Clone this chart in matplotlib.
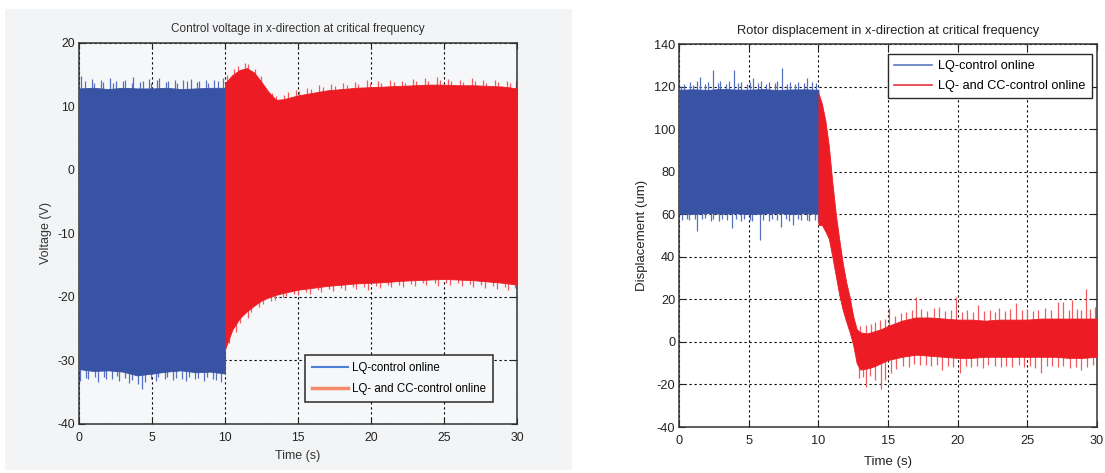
import matplotlib
matplotlib.use("Agg")
import matplotlib.pyplot as plt
from matplotlib.lines import Line2D
from matplotlib.patches import Rectangle

# ---------------- data: control voltage (left panel) ----------------
lq_v_t = [0, 1, 2, 3, 4, 5, 6, 7, 8, 9, 10]
lq_v_hi = [12.8, 12.9, 12.7, 12.9, 12.8, 12.8, 12.9, 12.7, 12.8, 12.9, 12.9]
lq_v_lo = [-31.4, -31.7, -31.6, -31.8, -32.4, -32.1, -31.8, -31.6, -31.9, -31.8, -32.1]
lq_v_peak_t = [0.15, 0.42, 0.9, 1.05, 1.48, 1.62, 2.1, 2.35, 2.55, 3.0, 3.18, 3.6, 3.72, 4.15,
               4.38, 4.8, 4.95, 5.35, 5.5, 5.95, 6.12, 6.58, 6.7, 7.15, 7.42, 7.65, 8.1, 8.25,
               8.7, 8.85, 9.25, 9.5, 9.85]
lq_v_peak = [14.8, 13.9, 14.3, 13.6, 14.1, 13.8, 14.4, 13.7, 14.0, 13.9, 14.2, 13.6, 14.6, 13.8,
             14.0, 14.3, 13.7, 14.1, 14.4, 13.8, 14.0, 14.2, 13.7, 14.1, 13.9, 14.3, 13.8, 14.0,
             14.2, 13.7, 14.1, 14.0, 14.4]
lq_v_dip_t = [0.08, 0.45, 0.62, 1.1, 1.28, 1.7, 1.85, 2.27, 2.6, 2.74, 3.12, 3.45, 3.66, 4.05,
              4.3, 4.52, 4.9, 5.25, 5.42, 5.86, 6.05, 6.46, 6.62, 7.08, 7.35, 7.5, 7.95, 8.15,
              8.58, 8.76, 9.18, 9.41, 9.72]
lq_v_dip = [-33.2, -32.8, -33.0, -32.6, -33.4, -32.7, -33.0, -32.9, -32.5, -33.3, -32.8, -33.6,
            -33.1, -33.8, -34.5, -33.4, -32.9, -33.2, -32.7, -33.0, -32.6, -33.1, -32.8, -32.9,
            -33.3, -32.7, -33.0, -32.8, -33.2, -32.6, -33.0, -33.1, -33.4]

cc_v_t = [10, 10.5, 11, 11.5, 12, 12.5, 13, 13.5, 14, 15, 16, 17, 18, 19, 20, 21, 22, 23, 24,
          25, 26, 27, 28, 29, 30]
cc_v_hi = [13.6, 14.9, 15.7, 16.0, 15.3, 13.8, 12.2, 11.0, 11.1, 11.7, 12.1, 12.5, 12.7, 12.9,
           13.0, 13.1, 13.2, 13.3, 13.4, 13.4, 13.3, 13.3, 13.2, 13.1, 12.8]
cc_v_lo = [-28.3, -25.2, -23.4, -22.3, -21.4, -20.6, -20.1, -19.7, -19.4, -18.9, -18.6, -18.3,
           -18.1, -17.9, -17.8, -17.7, -17.5, -17.4, -17.3, -17.2, -17.3, -17.4, -17.6, -17.8, -18.1]
cc_v_peak_t = [10.15, 10.62, 10.9, 11.35, 11.6, 12.05, 12.45, 12.7, 13.25, 13.5, 14.05, 14.3,
               14.85, 15.1, 15.65, 15.9, 16.45, 16.7, 17.25, 17.5, 18.1, 18.35, 18.9, 19.1,
               19.7, 19.95, 20.5, 20.7, 21.3, 21.55, 22.1, 22.3, 22.9, 23.1, 23.7, 23.9, 24.5,
               24.7, 25.3, 25.5, 26.1, 26.3, 26.9, 27.1, 27.7, 27.9, 28.5, 28.7, 29.3, 29.55,
               29.9]
cc_v_peak = [14.9, 15.8, 16.4, 16.8, 16.6, 15.9, 14.8, 13.2, 12.1, 11.6, 11.8, 12.3, 12.6, 12.4,
             12.9, 12.7, 13.3, 13.0, 13.5, 13.2, 13.6, 13.3, 13.8, 13.5, 14.1, 13.7, 13.9, 13.6,
             14.2, 13.8, 14.0, 13.7, 14.3, 13.9, 14.4, 14.0, 14.6, 14.1, 14.3, 13.9, 14.2, 13.8,
             14.4, 13.9, 14.1, 13.7, 14.2, 13.8, 14.0, 13.6, 13.9]
cc_v_dip_t = [10.25, 10.75, 11.05, 11.55, 11.8, 12.35, 12.6, 13.15, 13.4, 13.95, 14.2, 14.75,
              15.0, 15.55, 15.8, 16.35, 16.6, 17.15, 17.4, 17.95, 18.2, 18.75, 19.0, 19.55,
              19.8, 20.35, 20.6, 21.15, 21.4, 21.95, 22.2, 22.75, 23.0, 23.55, 23.8, 24.35,
              24.6, 25.15, 25.4, 25.95, 26.2, 26.75, 27.0, 27.55, 27.8, 28.35, 28.6, 29.15,
              29.4, 29.85]
cc_v_dip = [-27.3, -25.6, -24.2, -23.3, -22.4, -21.7, -21.2, -20.6, -20.5, -20.0, -19.9, -19.6,
            -19.8, -19.2, -19.5, -19.0, -19.3, -18.8, -19.1, -18.7, -18.9, -18.5, -18.8, -18.4,
            -18.9, -18.3, -18.6, -18.2, -18.5, -18.1, -18.4, -18.0, -18.3, -17.9, -18.2, -17.8,
            -18.3, -17.8, -18.1, -17.9, -18.3, -18.0, -18.4, -18.1, -18.6, -18.3, -18.8, -18.5,
            -19.0, -18.7]

# ---------------- data: rotor displacement (right panel) ----------------
lq_d_t = [0, 1, 2, 3, 4, 5, 6, 7, 8, 9, 10]
lq_d_hi = [118.6, 118.8, 118.5, 119.0, 118.7, 118.6, 118.9, 118.5, 118.7, 118.8, 118.6]
lq_d_lo = [60.4, 60.2, 60.6, 60.3, 60.5, 60.1, 60.4, 60.6, 60.2, 60.5, 60.3]
lq_d_peak_t = [0.1, 0.35, 0.75, 0.95, 1.3, 1.5, 1.85, 2.05, 2.4, 2.75, 2.9, 3.35, 3.55, 3.95,
               4.25, 4.45, 4.85, 5.05, 5.3, 5.65, 5.85, 6.25, 6.45, 6.85, 7.05, 7.4, 7.75, 7.95,
               8.35, 8.55, 8.95, 9.2, 9.55, 9.8]
lq_d_peak = [120.5, 121.5, 122.0, 121.0, 122.8, 124.7, 121.5, 122.3, 127.9, 121.8, 122.5, 121.2,
             122.9, 127.9, 121.6, 122.4, 121.3, 122.1, 124.0, 121.7, 122.6, 121.4, 122.2, 121.8,
             122.7, 128.7, 121.5, 122.3, 121.2, 122.0, 121.6, 124.0, 122.4, 121.9]
lq_d_dip_t = [0.2, 0.55, 0.7, 1.1, 1.3, 1.65, 1.85, 2.25, 2.45, 2.85, 3.05, 3.45, 3.8, 4.05,
              4.45, 4.65, 5.05, 5.25, 5.8, 6.05, 6.45, 6.65, 7.05, 7.3, 7.65, 7.85, 8.2, 8.55,
              8.75, 9.15, 9.35, 9.75, 9.95]
lq_d_dip = [57.5, 58.0, 57.2, 57.8, 52.3, 57.6, 58.1, 57.0, 57.9, 56.8, 57.7, 57.3, 53.4, 57.6,
            57.0, 57.9, 57.3, 56.9, 48.0, 57.5, 57.0, 57.8, 57.2, 54.2, 57.6, 57.1, 55.0, 57.7,
            57.2, 57.5, 56.8, 57.3, 56.5]

cc_d_t = [10, 10.25, 10.5, 10.75, 11, 11.25, 11.5, 11.75, 12, 12.25, 12.5, 12.75, 13, 13.5, 14,
          14.5, 15, 16, 17, 18, 19, 20, 21, 22, 23, 24, 25, 26, 27, 28, 29, 30]
cc_d_hi = [117, 112, 104, 92, 75, 60, 48, 37, 28, 21, 12, 6, 4.5, 4, 5, 6, 7.5, 10, 11.5, 11.5,
           11, 10.5, 10.5, 10, 10.5, 10.5, 10.5, 11, 11, 11, 11, 11]
cc_d_lo = [55, 55, 52, 48.5, 40, 31, 22, 15, 9.5, 4.5, -1.5, -10, -13, -12.5, -11.5, -10, -8.5,
           -7, -6, -6.5, -7, -7.5, -7.5, -7, -7, -7, -7, -7, -7, -7.5, -7.5, -7]
cc_d_peak_t = [13.0, 13.4, 13.75, 14.1, 14.4, 14.8, 15.1, 15.5, 15.9, 16.3, 16.7, 17.0, 17.4,
               17.8, 18.3, 18.7, 19.1, 19.5, 19.9, 20.3, 20.7, 21.1, 21.5, 21.9, 22.3, 22.7,
               23.0, 23.4, 23.8, 24.2, 24.6, 25.0, 25.4, 25.8, 26.3, 26.7, 27.2, 27.6, 28.0,
               28.2, 28.6, 28.9, 29.2, 29.5, 29.9]
cc_d_peak = [7.5, 8.0, 8.5, 9.5, 10.5, 11.0, 15.8, 12.0, 13.5, 14.0, 15.0, 21.0, 15.5, 14.5,
             16.0, 16.4, 14.5, 15.0, 21.3, 14.0, 15.2, 14.3, 17.2, 14.5, 15.0, 14.0, 15.8, 14.5,
             15.3, 18.1, 14.8, 15.5, 14.6, 15.2, 15.8, 14.9, 19.0, 18.9, 15.0, 19.6, 15.4, 14.8,
             24.8, 15.6, 16.4]
cc_d_dip_t = [12.9, 13.2, 13.4, 13.7, 14.1, 14.5, 14.8, 15.2, 15.6, 16.1, 16.5, 16.9, 17.3,
              17.7, 18.1, 18.5, 18.9, 19.3, 19.7, 20.2, 20.6, 21.0, 21.4, 21.8, 22.2, 22.7,
              23.1, 23.5, 23.9, 24.4, 24.8, 25.2, 25.6, 26.0, 26.4, 26.8, 27.2, 27.6, 28.1,
              28.5, 28.9, 29.3, 29.7]
cc_d_dip = [-17.0, -16.5, -21.0, -16.0, -17.8, -22.2, -17.8, -14.5, -12.5, -11.5, -12.0, -10.5,
            -11.0, -10.8, -11.5, -11.0, -13.0, -11.2, -11.8, -14.6, -11.5, -12.0, -11.3, -12.3,
            -11.0, -11.5, -12.0, -11.2, -11.8, -11.0, -12.0, -11.4, -12.2, -14.6, -11.5, -11.2,
            -12.0, -11.4, -12.3, -11.6, -13.0, -11.8, -10.7]

legend_labels = ["LQ-control online", "LQ- and CC-control online"]
x_ticks = [0, 5, 10, 15, 20, 25, 30]
v_ticks = [-40, -30, -20, -10, 0, 10, 20]
d_ticks = [-40, -20, 0, 20, 40, 60, 80, 100, 120, 140]

# ---------------- styling ----------------
BLUE = "#3953a4"
BLUE_EDGE = "#5570c0"
RED = "#ed1c24"
RED_EDGE = "#f25a60"
plt.rcParams["font.family"] = ["Liberation Sans", "DejaVu Sans"]
plt.rcParams["axes.unicode_minus"] = False

fig = plt.figure(figsize=(11.05, 4.73), dpi=100)
fig.patch.set_facecolor("white")
# grey figure window behind the left plot
fig.add_artist(Rectangle((5 / 1105, 1 - 470 / 473), 567 / 1105, 461 / 473,
                         transform=fig.transFigure, facecolor="#f3f4f6",
                         edgecolor="none", zorder=0))

ax1 = fig.add_axes([79 / 1105, 1 - 423.7 / 473, 438 / 1105, 381 / 473])
ax2 = fig.add_axes([679.3 / 1105, 1 - 427 / 473, 417.4 / 1105, 382.8 / 473])


def draw_band(ax, t, hi, lo, peak_t, peak, dip_t, dip, base, color, edge):
    # sparse excursions beyond the dense oscillation band
    ax.vlines(peak_t, base, peak, color=edge, lw=0.9, zorder=2)
    ax.vlines(dip_t, base, dip, color=edge, lw=0.9, zorder=2)
    ax.fill_between(t, lo, hi, color=color, lw=0.6, edgecolor=color, zorder=3)


draw_band(ax1, lq_v_t, lq_v_hi, lq_v_lo, lq_v_peak_t, lq_v_peak, lq_v_dip_t, lq_v_dip,
          -9, BLUE, BLUE_EDGE)
draw_band(ax1, cc_v_t, cc_v_hi, cc_v_lo, cc_v_peak_t, cc_v_peak, cc_v_dip_t, cc_v_dip,
          -3, RED, RED_EDGE)
draw_band(ax2, lq_d_t, lq_d_hi, lq_d_lo, lq_d_peak_t, lq_d_peak, lq_d_dip_t, lq_d_dip,
          90, BLUE, BLUE_EDGE)
draw_band(ax2, cc_d_t, cc_d_hi, cc_d_lo, cc_d_peak_t, cc_d_peak, cc_d_dip_t, cc_d_dip,
          2, RED, RED_EDGE)

for ax, yt, face, fs in ((ax1, v_ticks, "#f6f7f9", 8.8), (ax2, d_ticks, "white", 9.2)):
    ax.set_facecolor(face)
    ax.set_xlim(0, 30)
    ax.set_ylim(yt[0], yt[-1])
    ax.set_xticks(x_ticks)
    ax.set_yticks(yt)
    ax.grid(True, color="black", linestyle=(0, (2, 2.5)), linewidth=0.8)
    ax.tick_params(direction="in", length=4, width=0.8, top=True, right=True,
                   labelsize=fs, colors="#222222", pad=3)
    ax.tick_params(axis="x", pad=6)
    for s in ax.spines.values():
        s.set_color("#333333")
        s.set_linewidth(1.1)

ax1.set_title("Control voltage in x-direction at critical frequency", fontsize=8.5,
              color="#333333", pad=7.5)
ax1.set_xlabel("Time (s)", fontsize=9, color="#333333", labelpad=4)
ax1.set_ylabel("Voltage (V)", fontsize=9, color="#333333", labelpad=4)

ax2.set_title("Rotor displacement in x-direction at critical frequency", fontsize=9.3,
              color="#222222", pad=7)
ax2.set_xlabel("Time (s)", fontsize=9.5, color="#222222", labelpad=6)
ax2.set_ylabel("Displacement (um)", fontsize=9.5, color="#222222", labelpad=4)

h1 = [Line2D([], [], color="#4d7fd6", lw=1.5), Line2D([], [], color="#f58a6a", lw=2.5)]
leg1 = ax1.legend(h1, legend_labels, loc="lower left", bbox_to_anchor=(0.516, 0.057),
                  borderaxespad=0, fancybox=False, framealpha=1, facecolor="#f6f7f9",
                  edgecolor="#2a2a2a", fontsize=8.3, handlelength=3.1, handletextpad=0.4,
                  borderpad=0.6, labelspacing=0.8)
leg1.get_frame().set_linewidth(1.1)
leg1.set_zorder(5)

h2 = [Line2D([], [], color="#5a7bc4", lw=1.2), Line2D([], [], color="#e8343c", lw=1.2)]
leg2 = ax2.legend(h2, legend_labels, loc="upper right", bbox_to_anchor=(0.988, 0.974),
                  borderaxespad=0, fancybox=False, framealpha=1, facecolor="white",
                  edgecolor="#2a2a2a", fontsize=9.1, handlelength=3.0, handletextpad=0.45,
                  borderpad=0.5, labelspacing=0.6)
leg2.get_frame().set_linewidth(1.0)
leg2.set_zorder(5)

fig.savefig("out.png", dpi=100, facecolor=fig.get_facecolor())
